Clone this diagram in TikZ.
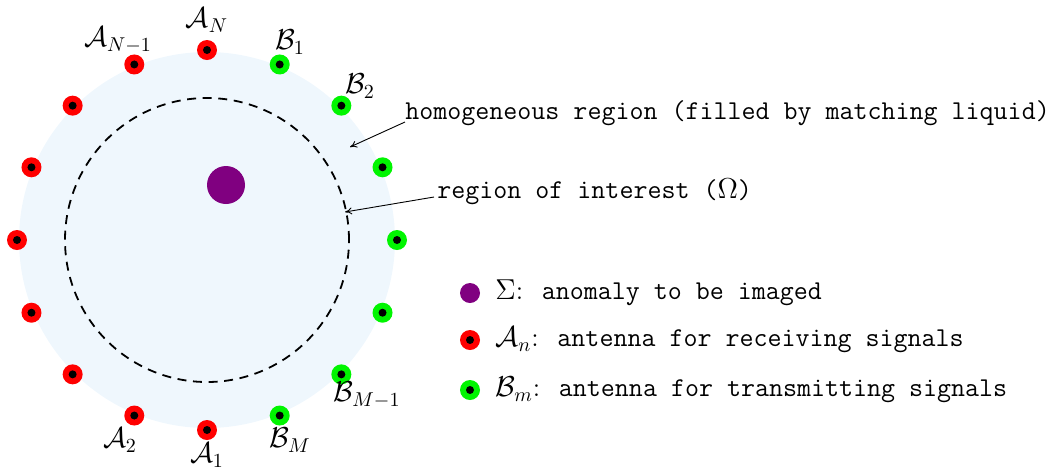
\documentclass[tikz,border=0pt]{standalone}
\usetikzlibrary{arrows.meta,calc}
\definecolor{liquid}{RGB}{239,247,253}
\definecolor{anom}{RGB}{128,0,128}
\definecolor{rxred}{RGB}{255,0,0}
\definecolor{txgreen}{RGB}{0,245,0}
\begin{document}
\begin{tikzpicture}[x=0.5pt,y=-0.5pt,
  every node/.style={font=\fontsize{13.6pt}{16pt}\selectfont, inner sep=0pt},
  ant/.style={circle, minimum size=10pt, inner sep=0pt,
    path picture={\fill[black] (path picture bounding box.center) circle[radius=2pt];}},
  rx/.style={ant, fill=rxred},
  tx/.style={ant, fill=txgreen},
  anomaly/.style={circle, fill=anom, inner sep=0pt},
  lbl/.style={anchor=center},
  txt/.style={anchor=west, font=\fontsize{13.6pt}{16pt}\selectfont\ttfamily},
  pointer/.style={-{To[length=3.5pt,width=3.5pt]}, line width=0.45pt}
]
\useasboundingbox (0,0) rectangle (1051,468);
\coordinate (c) at (207,240);
\fill[liquid] (c) circle[radius=94pt];
\draw[dash pattern=on 4.5pt off 3.3pt, line width=0.9pt] (c) circle[radius=71pt];
\node[anomaly, minimum size=19pt] (sigma) at (226,185) {};

% receiving antennas
\node[rx] (AN)  at ($(c)+(90:95pt)$) {};
\node[rx] (AN1) at ($(c)+(112.5:95pt)$) {};
\node[rx] (A7)  at ($(c)+(135:95pt)$) {};
\node[rx] (A6)  at ($(c)+(157.5:95pt)$) {};
\node[rx] (A5)  at ($(c)+(180:95pt)$) {};
\node[rx] (A4)  at ($(c)+(202.5:95pt)$) {};
\node[rx] (A3)  at ($(c)+(225:95pt)$) {};
\node[rx] (A2)  at ($(c)+(247.5:95pt)$) {};
\node[rx] (A1)  at ($(c)+(270:95pt)$) {};
% transmitting antennas
\node[tx] (B1)  at ($(c)+(67.5:95pt)$) {};
\node[tx] (B2)  at ($(c)+(45:95pt)$) {};
\node[tx] (B3)  at ($(c)+(22.5:95pt)$) {};
\node[tx] (B4)  at ($(c)+(0:95pt)$) {};
\node[tx] (B5)  at ($(c)+(-22.5:95pt)$) {};
\node[tx] (BM1) at ($(c)+(-45:95pt)$) {};
\node[tx] (BM)  at ($(c)+(-67.5:95pt)$) {};

% labels
\node[lbl] (lAN)  at (207,20)  {$\mathcal{A}_N$};
\node[lbl] (lAN1) at (118,40)  {$\mathcal{A}_{N-1}$};
\node[lbl] (lB1)  at (290,42)  {$\mathcal{B}_1$};
\node[lbl] (lB2)  at (360,86)  {$\mathcal{B}_2$};
\node[lbl] (lBM1) at (367,395) {$\mathcal{B}_{M-1}$};
\node[lbl] (lBM)  at (290,440) {$\mathcal{B}_M$};
\node[lbl] (lA1)  at (207,455) {$\mathcal{A}_1$};
\node[lbl] (lA2)  at (120,440) {$\mathcal{A}_2$};

% annotations
\node[txt] (hom) at (405,113) {homogeneous region (filled by matching liquid)};
\node[txt] (roi) at (437,192) {region of interest ($\Omega$)};
\coordinate (homtip) at (350,147);
\coordinate (roitip) at (345,212);
\draw[pointer] ($(hom.west)+(0,9)$) -- (homtip);
\draw[pointer] ($(roi.west)+(-3,5)$) -- (roitip);

% legend
\node[anomaly, minimum size=10pt] (legS) at (470,293) {};
\node[rx] (legA) at (470,340) {};
\node[tx] (legB) at (470,390) {};
\node[txt] (tS) at (495,293) {$\Sigma${\rmfamily:} anomaly to be imaged};
\node[txt] (tA) at (495,340) {$\mathcal{A}_n${\rmfamily:} antenna for receiving signals};
\node[txt] (tB) at (495,390) {$\mathcal{B}_m${\rmfamily:} antenna for transmitting signals};
\end{tikzpicture}
\end{document}
